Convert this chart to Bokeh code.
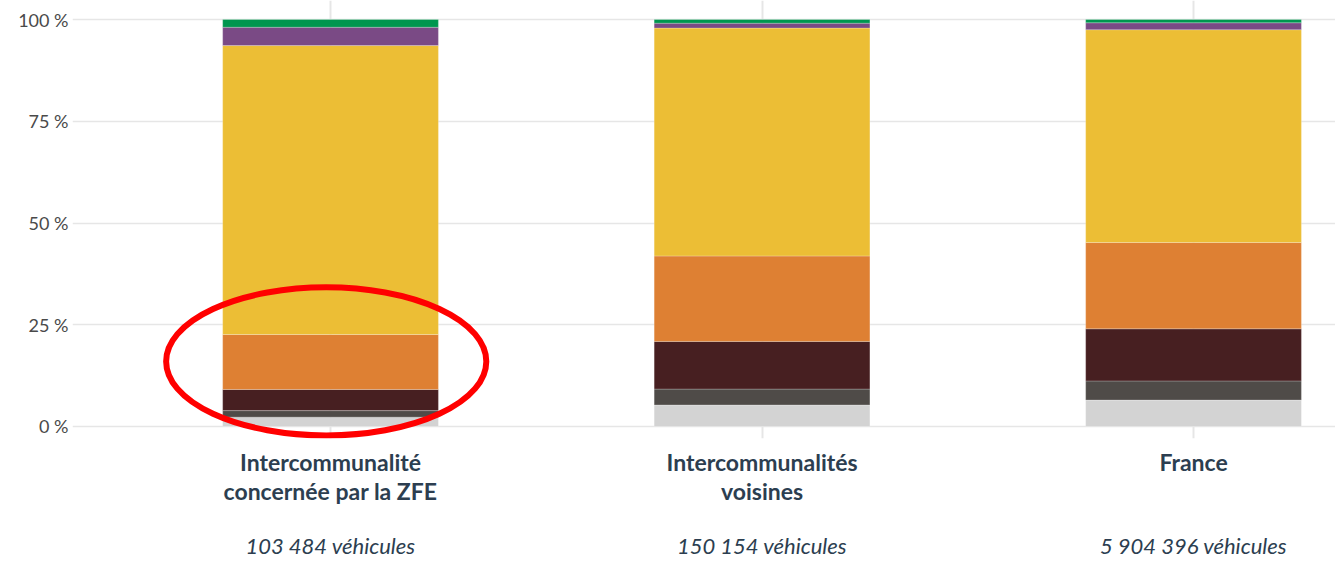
from bokeh.plotting import figure
from bokeh.models import Range1d, FixedTicker, ColumnDataSource, LinearAxis
from bokeh.embed import file_html
from bokeh.resources import INLINE

# ---- data ----
categories = ["Intercommunalité\nconcernée par la ZFE", "Intercommunalités\nvoisines", "France"]
vehicle_counts = ["103 484 véhicules", "150 154 véhicules", "5 904 396 véhicules"]
series = ["Non classé", "Crit'Air 5", "Crit'Air 4", "Crit'Air 3", "Crit'Air 2", "Crit'Air 1", "Crit'Air E"]
non_classe = [2.3, 5.3, 6.5]
critair5 = [1.6, 3.9, 4.7]
critair4 = [5.2, 11.7, 12.8]
critair3 = [13.5, 21.0, 21.2]
critair2 = [71.0, 56.0, 52.3]
critair1 = [4.5, 1.2, 1.7]
critairE = [1.9, 0.9, 0.8]
y_ticks = [0, 25, 50, 75, 100]
y_tick_labels = ["0 %", "25 %", "50 %", "75 %", "100 %"]
colors = ["#d3d3d3", "#4f4b48", "#471f21", "#de8033", "#ecbe35", "#7a4a85", "#00964f"]

xs = list(range(len(categories)))
src = ColumnDataSource(dict(
    x=xs,
    **{"Non classé": non_classe, "Crit'Air 5": critair5, "Crit'Air 4": critair4,
       "Crit'Air 3": critair3, "Crit'Air 2": critair2, "Crit'Air 1": critair1,
       "Crit'Air E": critairE}))

FONT = "Lato"
TEXT_COLOR = "#2c3e50"
p = figure(width=1335, height=561, output_backend="svg", toolbar_location=None,
           x_range=Range1d(-0.598, 2.329), y_range=Range1d(-2.95, 104.67),
           min_border_left=72, min_border_right=0, min_border_top=0, min_border_bottom=121)
p.outline_line_color = None
p.background_fill_color = "white"

p.vbar_stack(series, x="x", width=0.5, color=colors, source=src,
             line_color="white", line_width=0.6, line_alpha=0.4)

# highlight ellipse around first bar's lower part
p.ellipse(x=[xs[0] - 0.01], y=[16.0], width=[0.742], height=[36.4],
          fill_alpha=0, line_color="#ff0000", line_width=6)

# y axis
p.yaxis.ticker = FixedTicker(ticks=y_ticks)
p.yaxis.major_label_overrides = {t: l for t, l in zip(y_ticks, y_tick_labels)}
p.yaxis.axis_line_color = None
p.yaxis.major_tick_line_color = None
p.yaxis.minor_tick_line_color = None
p.yaxis.major_tick_out = 0
p.yaxis.major_tick_in = 0
p.yaxis.major_label_text_font = FONT
p.yaxis.major_label_text_font_size = "18px"
p.yaxis.major_label_text_color = "#4a4a4a"
p.yaxis.major_label_standoff = 4

def style_axis(ax, size, fstyle, standoff):
    ax.axis_line_color = None
    ax.major_tick_line_color = None
    ax.minor_tick_line_color = None
    ax.major_label_text_font = FONT
    ax.major_label_text_font_style = fstyle
    ax.major_label_text_font_size = size
    ax.major_label_text_color = TEXT_COLOR
    ax.major_label_standoff = standoff

# x axis: category names
p.xaxis.ticker = FixedTicker(ticks=xs)
p.xaxis.major_label_overrides = {i: c for i, c in zip(xs, categories)}
style_axis(p.xaxis[0], "23px", "bold", 3)
p.xaxis.major_label_text_line_height = 1.05

# second x axis: vehicle counts
ax2 = LinearAxis(ticker=FixedTicker(ticks=xs),
                 major_label_overrides={i: v for i, v in zip(xs, vehicle_counts)})
style_axis(ax2, "22px", "italic", 18)
p.add_layout(ax2, "below")

p.xgrid.grid_line_color = "#e6e6e6"
p.xgrid.grid_line_width = 2
p.ygrid.grid_line_color = "#e6e6e6"
p.ygrid.grid_line_width = 1.5
p.ygrid.ticker = FixedTicker(ticks=y_ticks)
p.xgrid.ticker = FixedTicker(ticks=xs)

open("out.html", "w").write(file_html(p, INLINE))
